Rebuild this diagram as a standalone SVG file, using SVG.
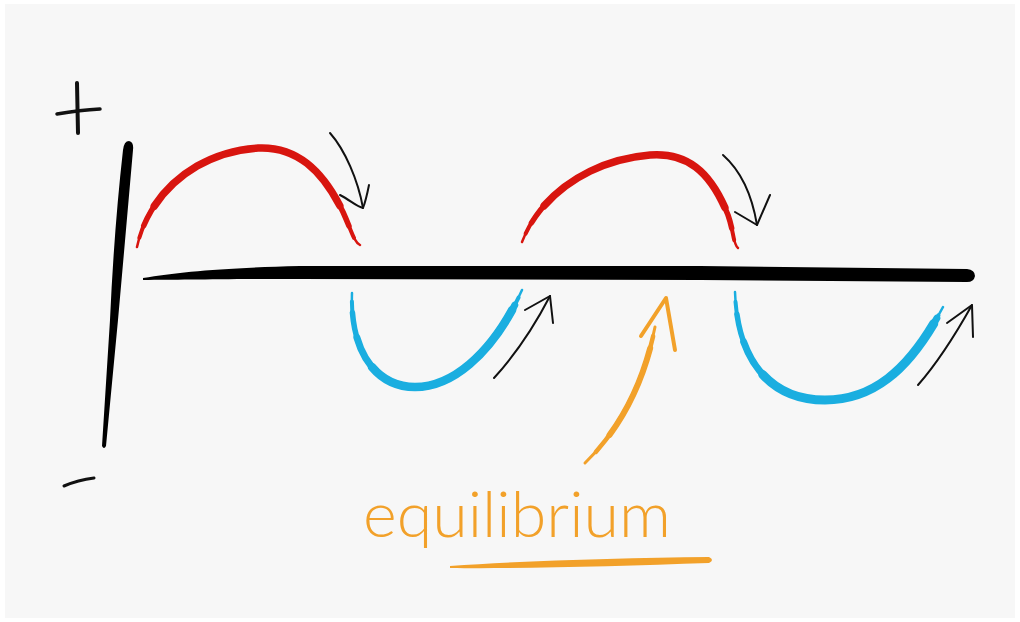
<svg xmlns="http://www.w3.org/2000/svg" width="1020" height="622" viewBox="0 0 1020 622">
<style>
.ink{fill:none;stroke-linecap:round;stroke-linejoin:round}
.red{stroke:#d8150f}
.blue{stroke:#1aaee0}
.orange{stroke:#f2a12a}
.blk{stroke:#111;stroke-width:2}
.w1{stroke-width:2.5}
.wa{stroke-width:4;stroke-dasharray:94 200;stroke-dashoffset:-3}
.w2{stroke-width:5.5;stroke-dasharray:86 200;stroke-dashoffset:-7}
.w3{stroke-width:7.5;stroke-dasharray:72 200;stroke-dashoffset:-14}
.label{font-family:"Lato","Open Sans","DejaVu Sans",sans-serif;font-weight:300;fill:#f2a12a}
</style>
<defs>
<path id="r1" d="M137,247 C148,195 195,152 258,148 C300,146 325,175 343,212 C352,232 354,242 360,245"/>
<path id="r2" d="M522,242 C540,195 590,160 650,155 C690,152 712,175 728,215 C734,232 733,244 738,248"/>
<path id="b1" d="M352,293 C350,350 375,387 415,387 C460,387 500,340 522,290"/>
<path id="b2" d="M735,292 C737,360 770,400 825,400 C880,400 915,360 943,307"/>
</defs>
<rect width="1020" height="622" fill="#ffffff"/>
<rect x="5" y="4" width="1010" height="614" fill="#f7f7f7"/>

<g id="axis-labels">
<path class="ink" d="M77,83 L78,133" stroke="#111" stroke-width="4"/>
<path class="ink" d="M57,114 Q80,110 100,109" stroke="#111" stroke-width="3.5"/>
<path class="ink" d="M64,486 Q78,480 94,478" stroke="#111" stroke-width="3"/>
</g>

<g id="vertical-axis">
<path d="M123,150 Q124,141 129,141 Q134,142 133,150 Q126,230 118,320 L106,446 Q104,450 102,446 L110,320 Q114,230 123,150 Z" fill="#000"/>
</g>

<g id="equilibrium-axis">
<path d="M143,278 C180,272 220,268 300,266 L700,266 L967,269 Q975,270 975,276 Q974,282 967,282 L700,280 L300,279 C220,279 180,280 143,280 Z" fill="#000"/>
</g>

<g id="wave-red-1">
<path class="ink red w1" pathLength="100" d="M137,247 C148,195 195,152 258,148 C300,146 325,175 343,212 C352,232 354,242 360,245"/>
<path class="ink red wa" pathLength="100" d="M137,247 C148,195 195,152 258,148 C300,146 325,175 343,212 C352,232 354,242 360,245"/>
<path class="ink red w2" pathLength="100" d="M137,247 C148,195 195,152 258,148 C300,146 325,175 343,212 C352,232 354,242 360,245"/>
<path class="ink red w3" pathLength="100" d="M137,247 C148,195 195,152 258,148 C300,146 325,175 343,212 C352,232 354,242 360,245"/>
</g>

<g id="wave-red-2">
<path class="ink red w1" pathLength="100" d="M522,242 C540,195 590,160 650,155 C690,152 712,175 728,215 C734,232 733,244 738,248"/>
<path class="ink red wa" pathLength="100" d="M522,242 C540,195 590,160 650,155 C690,152 712,175 728,215 C734,232 733,244 738,248"/>
<path class="ink red w2" pathLength="100" d="M522,242 C540,195 590,160 650,155 C690,152 712,175 728,215 C734,232 733,244 738,248"/>
<path class="ink red w3" pathLength="100" d="M522,242 C540,195 590,160 650,155 C690,152 712,175 728,215 C734,232 733,244 738,248"/>
</g>

<g id="wave-blue-1">
<path class="ink blue w1" pathLength="100" d="M352,293 C350,350 375,387 415,387 C460,387 500,340 522,290"/>
<path class="ink blue wa" pathLength="100" d="M352,293 C350,350 375,387 415,387 C460,387 500,340 522,290"/>
<path class="ink blue w2" pathLength="100" d="M352,293 C350,350 375,387 415,387 C460,387 500,340 522,290"/>
<path class="ink blue" stroke-width="7" stroke-dasharray="78 200" stroke-dashoffset="-16" pathLength="100" d="M352,293 C350,350 375,387 415,387 C460,387 500,340 522,290"/>
<path class="ink blue" stroke-width="8.5" stroke-dasharray="64 200" stroke-dashoffset="-28" pathLength="100" d="M352,293 C350,350 375,387 415,387 C460,387 500,340 522,290"/>
</g>

<g id="wave-blue-2">
<path class="ink blue w1" pathLength="100" d="M735,292 C737,360 770,400 825,400 C880,400 915,360 943,307"/>
<path class="ink blue wa" pathLength="100" d="M735,292 C737,360 770,400 825,400 C880,400 915,360 943,307"/>
<path class="ink blue w2" pathLength="100" d="M735,292 C737,360 770,400 825,400 C880,400 915,360 943,307"/>
<path class="ink blue" stroke-width="7" stroke-dasharray="80 200" stroke-dashoffset="-16" pathLength="100" d="M735,292 C737,360 770,400 825,400 C880,400 915,360 943,307"/>
<path class="ink blue" stroke-width="9" stroke-dasharray="66 200" stroke-dashoffset="-28" pathLength="100" d="M735,292 C737,360 770,400 825,400 C880,400 915,360 943,307"/>
</g>

<g id="connectors">
<path class="ink blk" d="M330,133 C345,150 358,180 363,208"/>
<path class="ink blk" d="M340,195 C350,200 357,207 363,208 C365,203 367,195 369,185"/>
<path class="ink blk" d="M723,155 C740,170 752,195 757,225"/>
<path class="ink blk" d="M735,212 L757,225 L770,195"/>
<path class="ink blk" d="M494,378 C515,355 535,325 550,296"/>
<path class="ink blk" d="M525,310 L550,296 L553,323"/>
<path class="ink blk" d="M918,385 C940,360 958,330 972,305"/>
<path class="ink blk" d="M947,323 L972,305 L973,337"/>
<path class="ink orange" stroke-width="3" d="M585,463 C620,430 645,380 655,327"/>
<path class="ink orange" stroke-width="4.5" pathLength="100" stroke-dasharray="84 200" stroke-dashoffset="-10" d="M585,463 C620,430 645,380 655,327"/>
<path class="ink orange" stroke-width="6" pathLength="100" stroke-dasharray="62 200" stroke-dashoffset="-24" d="M585,463 C620,430 645,380 655,327"/>
<path class="ink orange" stroke-width="4" d="M641,336 L666,298 L675,350"/>
</g>

<g id="label">
<text class="label" x="363" y="537" font-size="64" textLength="308" lengthAdjust="spacingAndGlyphs">equilibrium</text>
<path d="M450,566 C520,561 620,558 709,557 Q715,560 709,563 C620,566 520,569 450,568 Z" fill="#f2a12a"/>
</g>
</svg>
